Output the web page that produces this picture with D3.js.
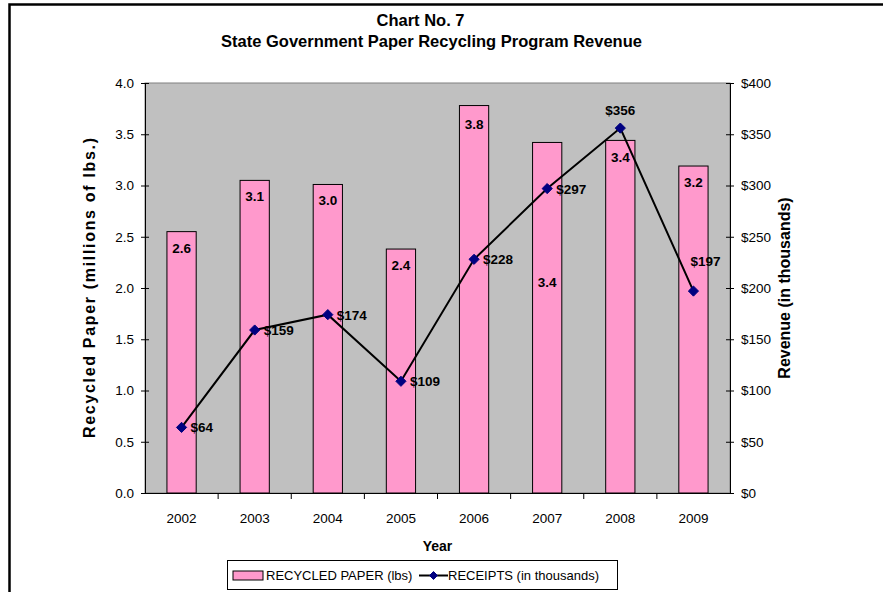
<!DOCTYPE html>
<html>
<head>
<meta charset="utf-8">
<script src="https://cdn.jsdelivr.net/npm/d3@7"></script>
<style>
  body { margin: 0; background: #fff; }
  text { font-family: Arial, "Liberation Sans", sans-serif; }
</style>
</head>
<body>
<div id="chart"></div>
<script>
// ==== data ====
const years    = ["2002", "2003", "2004", "2005", "2006", "2007", "2008", "2009"];
const paper    = [2.55, 3.05, 3.01, 2.38, 3.78, 3.42, 3.44, 3.19];   // millions of lbs
const paperLbl = ["2.6", "3.1", "3.0", "2.4", "3.8", "3.4", "3.4", "3.2"];
const receipts = [64, 159, 174, 109, 228, 297, 356, 197];           // thousands of $
const leftTicks  = [0, 0.5, 1, 1.5, 2, 2.5, 3, 3.5, 4];
const rightTicks = [0, 50, 100, 150, 200, 250, 300, 350, 400];

const W = 883, H = 592;
const plot = { left: 145, right: 730, top: 83, bottom: 493 };

const svg = d3.select("#chart")
  .append("svg")
    .attr("width", W)
    .attr("height", H);

// outer chart border (cropped on right / bottom)
svg.append("rect")
  .attr("x", 9.5).attr("y", 4.5)
  .attr("width", W + 20).attr("height", H + 20)
  .attr("fill", "#fff")
  .attr("stroke", "#000")
  .attr("stroke-width", 2.5);

// ==== scales ====
const x = d3.scaleBand()
  .domain(years)
  .range([plot.left, plot.right])
  .padding(0);

const yL = d3.scaleLinear().domain([0, 4]).range([plot.bottom, plot.top]);
const yR = d3.scaleLinear().domain([0, 400]).range([plot.bottom, plot.top]);

const barW = x.bandwidth() * 0.4;

// plot area
svg.append("rect")
  .attr("x", plot.left).attr("y", plot.top)
  .attr("width", plot.right - plot.left)
  .attr("height", plot.bottom - plot.top)
  .attr("fill", "#c0c0c0")
  .attr("stroke", "#808080")
  .attr("stroke-width", 1);

// ==== bars ====
svg.append("g")
  .selectAll("rect")
  .data(years)
  .enter()
  .append("rect")
    .attr("x", d => x(d) + (x.bandwidth() - barW) / 2)
    .attr("y", (d, i) => yL(paper[i]))
    .attr("width", barW)
    .attr("height", (d, i) => yL(0) - yL(paper[i]))
    .attr("fill", "#ff99cc")
    .attr("stroke", "#000")
    .attr("stroke-width", 1);

// bar labels (2007 label was dragged down in the original)
const barLblDy = [21, 21, 21, 21, 23, 145, 22, 21];
svg.append("g")
  .selectAll("text")
  .data(years)
  .enter()
  .append("text")
    .attr("x", d => x(d) + x.bandwidth() / 2)
    .attr("y", (d, i) => yL(paper[i]) + barLblDy[i])
    .attr("text-anchor", "middle")
    .attr("font-size", "13.5px")
    .attr("font-weight", "bold")
    .text((d, i) => paperLbl[i]);

// ==== axes ====
const axisL = svg.append("g")
  .attr("transform", `translate(${plot.left},0)`)
  .call(d3.axisLeft(yL).tickValues(leftTicks).tickFormat(d3.format(".1f")).tickSizeInner(4).tickSizeOuter(0).tickPadding(7));
axisL.selectAll(".tick line").attr("x1", 4);

const axisR = svg.append("g")
  .attr("transform", `translate(${plot.right},0)`)
  .call(d3.axisRight(yR).tickValues(rightTicks).tickFormat(d => "$" + d).tickSizeInner(4).tickSizeOuter(0).tickPadding(7));
axisR.selectAll(".tick line").attr("x1", -4);

const axisB = svg.append("g")
  .attr("transform", `translate(0,${plot.bottom})`)
  .call(d3.axisBottom(x).tickSize(0).tickPadding(20));

// category separators below the x axis
svg.append("g")
  .selectAll("line")
  .data(years.slice(1))
  .enter()
  .append("line")
    .attr("x1", d => x(d)).attr("x2", d => x(d))
    .attr("y1", plot.bottom).attr("y2", plot.bottom + 6)
    .attr("stroke", "#000");

[axisL, axisR, axisB].forEach(a => {
  a.selectAll("path").attr("stroke", "#000");
  a.selectAll(".tick line").attr("stroke", "#000");
  a.selectAll("text")
    .attr("font-size", "13.5px")
    .attr("fill", "#000")
    .attr("font-family", "Arial, 'Liberation Sans', sans-serif");
});

// ==== receipts line ====
const cx = d => x(d) + x.bandwidth() / 2;
const line = d3.line()
  .x(d => cx(d))
  .y((d, i) => yR(receipts[i]));

svg.append("path")
  .datum(years)
  .attr("d", line)
  .attr("fill", "none")
  .attr("stroke", "#000")
  .attr("stroke-width", 2);

const diamond = d3.symbol().type(d3.symbolDiamond2).size(66);
svg.append("g")
  .selectAll("path")
  .data(years)
  .enter()
  .append("path")
    .attr("transform", (d, i) => `translate(${cx(d)},${yR(receipts[i])})`)
    .attr("d", diamond)
    .attr("fill", "#000080")
    .attr("stroke", "#000080");

// receipt labels: mostly right of point, 2008 above, 2009 above-right
const recLblDx = [9, 9, 9, 9, 9, 9, 0, -3];
const recLblDy = [5, 5, 5, 5, 5, 5, -13, -25];
svg.append("g")
  .selectAll("text")
  .data(years)
  .enter()
  .append("text")
    .attr("x", (d, i) => cx(d) + recLblDx[i])
    .attr("y", (d, i) => yR(receipts[i]) + recLblDy[i])
    .attr("text-anchor", (d, i) => i === 6 ? "middle" : "start")
    .attr("font-size", "13.5px")
    .attr("font-weight", "bold")
    .text((d, i) => "$" + receipts[i]);

// ==== titles ====
const midX = (plot.left + plot.right) / 2;
svg.append("text")
  .attr("x", midX - 17).attr("y", 26)
  .attr("text-anchor", "middle")
  .attr("font-size", "16.5px")
  .attr("font-weight", "bold")
  .text("Chart No. 7");

svg.append("text")
  .attr("x", midX - 6).attr("y", 47)
  .attr("text-anchor", "middle")
  .attr("font-size", "16.5px")
  .attr("font-weight", "bold")
  .text("State Government Paper Recycling Program Revenue");

svg.append("text")
  .attr("x", midX).attr("y", 551)
  .attr("text-anchor", "middle")
  .attr("font-size", "14px")
  .attr("font-weight", "bold")
  .text("Year");

svg.append("text")
  .attr("transform", `translate(95,${(plot.top + plot.bottom) / 2}) rotate(-90)`)
  .attr("text-anchor", "middle")
  .attr("font-size", "16px")
  .attr("font-weight", "bold")
  .attr("textLength", 300)
  .attr("lengthAdjust", "spacing")
  .text("Recycled Paper (millions of lbs.)");

svg.append("text")
  .attr("transform", `translate(790,${(plot.top + plot.bottom) / 2}) rotate(-90)`)
  .attr("text-anchor", "middle")
  .attr("font-size", "16px")
  .attr("font-weight", "bold")
  .text("Revenue (in thousands)");

// ==== legend ====
const lg = svg.append("g");
lg.append("rect")
  .attr("x", 227.5).attr("y", 560.5)
  .attr("width", 390).attr("height", 29)
  .attr("fill", "#fff")
  .attr("stroke", "#000");

lg.append("rect")
  .attr("x", 233).attr("y", 571)
  .attr("width", 30).attr("height", 9)
  .attr("fill", "#ff99cc")
  .attr("stroke", "#000");

lg.append("text")
  .attr("x", 266).attr("y", 580)
  .attr("font-size", "13px")
  .text("RECYCLED PAPER (lbs)");

lg.append("line")
  .attr("x1", 419).attr("x2", 448)
  .attr("y1", 575.5).attr("y2", 575.5)
  .attr("stroke", "#000")
  .attr("stroke-width", 2);

lg.append("path")
  .attr("transform", "translate(433.5,575.5)")
  .attr("d", d3.symbol().type(d3.symbolDiamond2).size(40))
  .attr("fill", "#000080")
  .attr("stroke", "#000080");

lg.append("text")
  .attr("x", 448).attr("y", 580)
  .attr("font-size", "13px")
  .text("RECEIPTS (in thousands)");
</script>
</body>
</html>
